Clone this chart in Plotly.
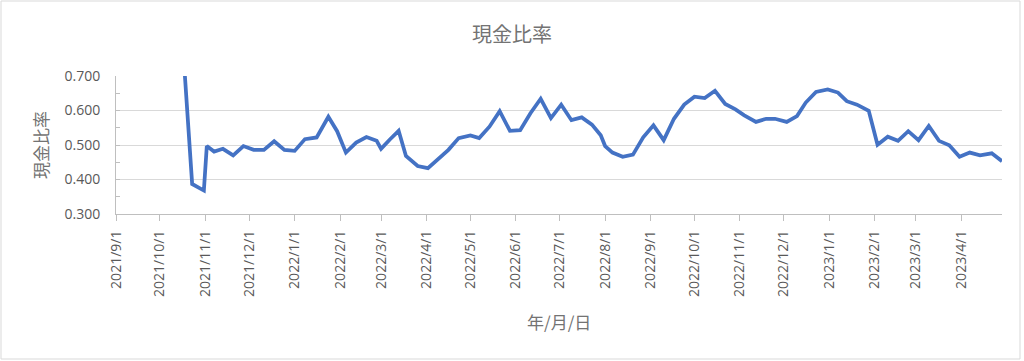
import plotly.graph_objects as go

dates = [
    "2021-10-16", "2021-10-23", "2021-10-31", "2021-11-02", "2021-11-07", "2021-11-13",
    "2021-11-20", "2021-11-27", "2021-12-04", "2021-12-11", "2021-12-18", "2021-12-25",
    "2022-01-01", "2022-01-08", "2022-01-16", "2022-01-24", "2022-01-30", "2022-02-05",
    "2022-02-12", "2022-02-19", "2022-02-26", "2022-03-01", "2022-03-07", "2022-03-13",
    "2022-03-18", "2022-03-26", "2022-04-02", "2022-04-09", "2022-04-16", "2022-04-23",
    "2022-05-01", "2022-05-07", "2022-05-14", "2022-05-21", "2022-05-28", "2022-06-04",
    "2022-06-11", "2022-06-18", "2022-06-25", "2022-07-02", "2022-07-09", "2022-07-16",
    "2022-07-23", "2022-07-29", "2022-08-01", "2022-08-06", "2022-08-13", "2022-08-20",
    "2022-08-27", "2022-09-03", "2022-09-10", "2022-09-17", "2022-09-24", "2022-10-01",
    "2022-10-08", "2022-10-15", "2022-10-22", "2022-10-29", "2022-11-04", "2022-11-12",
    "2022-11-19", "2022-11-25", "2022-12-03", "2022-12-10", "2022-12-16", "2022-12-23",
    "2022-12-31", "2023-01-07", "2023-01-13", "2023-01-20", "2023-01-28", "2023-02-03",
    "2023-02-10", "2023-02-17", "2023-02-24", "2023-03-03", "2023-03-10", "2023-03-17",
    "2023-03-24", "2023-03-31", "2023-04-07", "2023-04-14", "2023-04-22", "2023-04-29",
]
cash_ratio = [
    0.830, 0.387, 0.368, 0.497, 0.481, 0.489,
    0.470, 0.497, 0.486, 0.486, 0.511, 0.486,
    0.483, 0.517, 0.522, 0.582, 0.540, 0.478,
    0.507, 0.523, 0.512, 0.489, 0.516, 0.541,
    0.468, 0.439, 0.433, 0.460, 0.486, 0.520,
    0.528, 0.520, 0.553, 0.598, 0.541, 0.543,
    0.592, 0.634, 0.578, 0.617, 0.572, 0.580,
    0.559, 0.528, 0.497, 0.478, 0.466, 0.472,
    0.522, 0.557, 0.514, 0.576, 0.617, 0.640,
    0.636, 0.657, 0.619, 0.603, 0.586, 0.567,
    0.576, 0.576, 0.567, 0.584, 0.623, 0.654,
    0.661, 0.652, 0.627, 0.617, 0.599, 0.501,
    0.524, 0.512, 0.540, 0.514, 0.555, 0.512,
    0.499, 0.466, 0.478, 0.470, 0.476, 0.453,
]

tick_dates = [
    "2021-09-01", "2021-10-01", "2021-11-01", "2021-12-01", "2022-01-01", "2022-02-01",
    "2022-03-01", "2022-04-01", "2022-05-01", "2022-06-01", "2022-07-01", "2022-08-01",
    "2022-09-01", "2022-10-01", "2022-11-01", "2022-12-01", "2023-01-01", "2023-02-01",
    "2023-03-01", "2023-04-01",
]
tick_labels = [
    "2021/9/1", "2021/10/1", "2021/11/1", "2021/12/1", "2022/1/1", "2022/2/1",
    "2022/3/1", "2022/4/1", "2022/5/1", "2022/6/1", "2022/7/1", "2022/8/1",
    "2022/9/1", "2022/10/1", "2022/11/1", "2022/12/1", "2023/1/1", "2023/2/1",
    "2023/3/1", "2023/4/1",
]
y_ticks = [0.3, 0.4, 0.5, 0.6, 0.7]
y_labels = ["0.300", "0.400", "0.500", "0.600", "0.700"]

title_text = "現金比率"
y_title = "現金比率"
x_title = "年/月/日"

FONT = "Open Sans, Noto Sans CJK JP, sans-serif"
GRAY = "#595959"

fig = go.Figure()
fig.add_trace(go.Scatter(
    x=dates, y=cash_ratio, mode="lines",
    line=dict(color="#4472C4", width=3.75),
    showlegend=False,
))

L, R, T, B = 116, 22, 76, 147
W, H = 1024, 361
pw, ph = W - L - R, H - T - B

fig.update_layout(
    width=W, height=H,
    margin=dict(l=L, r=R, t=T, b=B),
    paper_bgcolor="white", plot_bgcolor="white",
    font=dict(family=FONT, color=GRAY),
    title=dict(text=title_text, x=0.5, xanchor="center", y=1 - 35 / H, yanchor="middle",
               font=dict(size=20, color="#737373", family="Noto Sans CJK JP")),
    xaxis=dict(
        type="date", range=["2021-09-01", "2023-04-29"],
        tickmode="array", tickvals=tick_dates, ticktext=tick_labels,
        tickangle=-90, tickfont=dict(size=14, color=GRAY),
        showgrid=False, showline=True, linecolor="#bfbfbf", linewidth=1,
        ticks="outside", ticklen=6, tickcolor="#bfbfbf",
        ticklabelstandoff=4,
        zeroline=False,
    ),
    yaxis=dict(
        range=[0.3, 0.7], tickmode="array", tickvals=y_ticks, ticktext=y_labels,
        tickfont=dict(size=14, color=GRAY),
        showgrid=True, gridcolor="#d9d9d9", gridwidth=1,
        showline=True, linecolor="#bfbfbf", linewidth=1,
        ticks="inside", ticklen=4, tickcolor="#bfbfbf",
        minor=dict(dtick=0.05, tick0=0.3, ticks="inside", ticklen=4, tickcolor="#bfbfbf", showgrid=False),
        ticklabelstandoff=12,
        zeroline=False,
    ),
    annotations=[
        dict(text=y_title, xref="paper", yref="paper", x=(40 - L) / pw, y=0.5,
             textangle=-90, showarrow=False, xanchor="center", yanchor="middle",
             font=dict(size=17, color="#737373", family="Noto Sans CJK JP")),
        dict(text=x_title, xref="paper", yref="paper", x=0.5, y=(T + ph - 321) / ph,
             showarrow=False, xanchor="center", yanchor="middle",
             font=dict(size=17, color="#737373", family="Noto Sans CJK JP")),
    ],
    shapes=[
        dict(type="rect", xref="paper", yref="paper",
             x0=(1 - L) / pw, x1=(1020 - L) / pw,
             y0=(T + ph - 359) / ph, y1=(T + ph - 1) / ph,
             line=dict(color="#d9d9d9", width=1), fillcolor="rgba(0,0,0,0)", layer="below"),
    ],
)

fig.write_html(
    "out.html",
    config={"displayModeBar": False},
    post_script="document.body.style.margin='0';document.body.style.overflow='hidden';",
)
